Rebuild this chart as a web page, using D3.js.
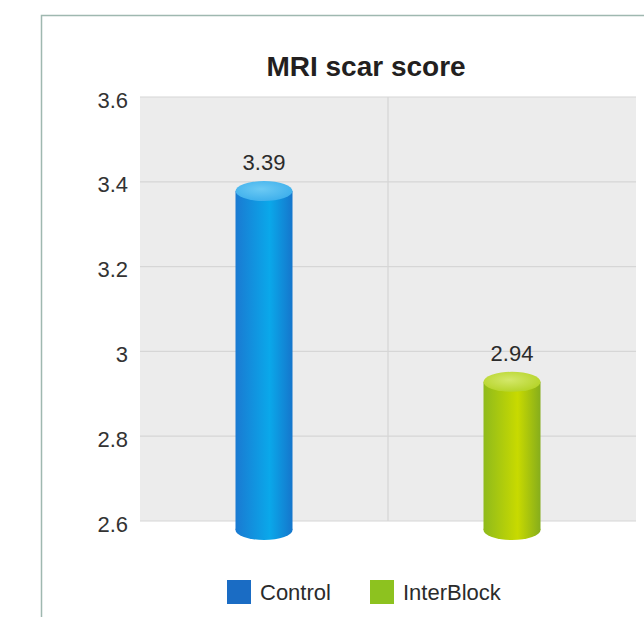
<!DOCTYPE html>
<html>
<head>
<meta charset="utf-8">
<script src="https://cdn.jsdelivr.net/npm/d3@7"></script>
<style>
  body { margin: 0; background: #fff; }
  svg { display: block; font-family: "Liberation Sans", Arial, sans-serif; }
</style>
</head>
<body>
<div id="chart"></div>
<script>
// donnees du graphique
const categories = ["Control", "InterBlock"];
const values = [3.39, 2.94];
const yTicks = [2.6, 2.8, 3, 3.2, 3.4, 3.6];
const yTickLabels = ["2.6", "2.8", "3", "3.2", "3.4", "3.6"];
const titre = "MRI scar score";

const W = 644, H = 617;
const plot = { left: 140, right: 636, top: 97, bottom: 521 };

// couleurs des cylindres : [bord gauche, milieu, bord droit, dessus clair, dessus fonce, legende]
const couleurs = [
  ["#1a7ad2", "#0aa8ea", "#1576cc", "#6ccaf4", "#3fb0ec", "#1a6cc4"],
  ["#8fba1c", "#c8da00", "#86ad1c", "#d4e86a", "#b6d42a", "#8dc21f"]
];

const svg = d3.select("#chart").append("svg").attr("width", W).attr("height", H);
const defs = svg.append("defs");

// cadre
svg.append("rect")
  .attr("x", 41.5).attr("y", 15.5)
  .attr("width", W).attr("height", H)
  .attr("fill", "none")
  .attr("stroke", "#9fb8b0")
  .attr("stroke-width", 1.5);

// titre
svg.append("text")
  .attr("x", 366).attr("y", 76)
  .attr("text-anchor", "middle")
  .attr("font-size", 28)
  .attr("font-weight", "bold")
  .attr("fill", "#231f20")
  .text(titre);

const x = d3.scaleBand().domain(categories).range([plot.left, plot.right]);
const y = d3.scaleLinear().domain([2.6, 3.6]).range([plot.bottom, plot.top]);

// fond gris
svg.append("rect")
  .attr("x", plot.left).attr("y", plot.top)
  .attr("width", plot.right - plot.left).attr("height", plot.bottom - plot.top)
  .attr("fill", "#ececec");

// grille horizontale
svg.append("g").selectAll("line").data(yTicks).join("line")
  .attr("x1", plot.left).attr("x2", plot.right)
  .attr("y1", d => y(d)).attr("y2", d => y(d))
  .attr("stroke", "#d6d6d6").attr("stroke-width", 1.2);

// separateur vertical
svg.append("line")
  .attr("x1", x(categories[1])).attr("x2", x(categories[1]))
  .attr("y1", plot.top).attr("y2", plot.bottom)
  .attr("stroke", "#d6d6d6").attr("stroke-width", 1.2);

// axe y (texte seulement)
const axeY = svg.append("g")
  .attr("transform", `translate(${plot.left - 12},3)`)
  .call(d3.axisLeft(y).tickValues(yTicks).tickFormat((d, i) => yTickLabels[i]).tickSize(0).tickPadding(0));
axeY.select(".domain").remove();
axeY.selectAll("text")
  .attr("font-size", 22)
  .attr("font-family", "Liberation Sans, Arial, sans-serif")
  .attr("fill", "#333");

// cylindres
const largeur = 57, ry = 10;
categories.forEach((cat, i) => {
  const c = couleurs[i];
  const gCorps = defs.append("linearGradient").attr("id", "corps" + i)
    .attr("x1", "0%").attr("x2", "100%").attr("y1", "0%").attr("y2", "0%");
  gCorps.append("stop").attr("offset", "0%").attr("stop-color", c[0]);
  gCorps.append("stop").attr("offset", "60%").attr("stop-color", c[1]);
  gCorps.append("stop").attr("offset", "100%").attr("stop-color", c[2]);

  const gHaut = defs.append("radialGradient").attr("id", "haut" + i)
    .attr("cx", "45%").attr("cy", "40%").attr("r", "60%");
  gHaut.append("stop").attr("offset", "0%").attr("stop-color", c[3]);
  gHaut.append("stop").attr("offset", "100%").attr("stop-color", c[4]);

  const cx = x(cat) + x.bandwidth() / 2;
  const yHaut = y(values[i]) + 5;
  const yBas = y(2.6) + 9;

  const g = svg.append("g");
  // ombre du bas
  g.append("ellipse")
    .attr("cx", cx).attr("cy", yBas)
    .attr("rx", largeur / 2).attr("ry", ry)
    .attr("fill", "url(#corps" + i + ")");
  g.append("rect")
    .attr("x", cx - largeur / 2).attr("y", yHaut)
    .attr("width", largeur).attr("height", yBas - yHaut)
    .attr("fill", "url(#corps" + i + ")");
  g.append("ellipse")
    .attr("cx", cx).attr("cy", yHaut)
    .attr("rx", largeur / 2).attr("ry", ry)
    .attr("fill", "url(#haut" + i + ")");

  // etiquette de valeur
  svg.append("text")
    .attr("x", cx).attr("y", yHaut - ry - 11)
    .attr("text-anchor", "middle")
    .attr("font-size", 22)
    .attr("fill", "#2b2b2b")
    .text(values[i].toFixed(2));
});

// legende
const legX = [227, 370];
const leg = svg.append("g").selectAll("g").data(categories).join("g")
  .attr("transform", (d, i) => `translate(${legX[i]},580)`);
leg.append("rect")
  .attr("width", 24).attr("height", 24)
  .attr("fill", (d, i) => couleurs[i][5]);
leg.append("text")
  .attr("x", 33).attr("y", 20)
  .attr("font-size", 22)
  .attr("fill", "#2b2b2b")
  .text(d => d);
</script>
</body>
</html>
